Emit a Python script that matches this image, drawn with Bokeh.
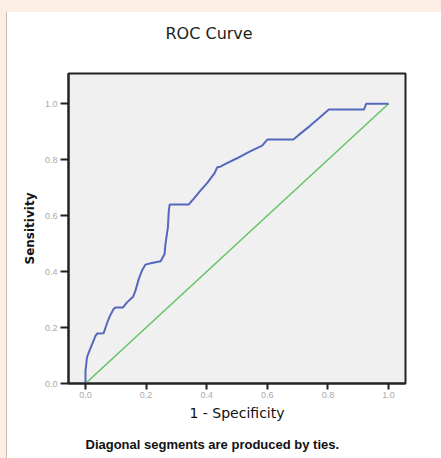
from bokeh.plotting import figure
from bokeh.models import Range1d, FixedTicker, Title, Spacer, LinearAxis
from bokeh.layouts import column, row
from bokeh.embed import file_html
from bokeh.resources import INLINE

# ROC curve
fpr = [0.000, 0.000, 0.005, 0.011, 0.022, 0.033, 0.039, 0.060, 0.072, 0.080, 0.093, 0.099,
       0.124, 0.137, 0.157, 0.165, 0.176, 0.187, 0.198, 0.215, 0.248, 0.261, 0.264, 0.272,
       0.275, 0.278, 0.341, 0.352, 0.380, 0.402, 0.425, 0.435, 0.445, 0.462, 0.500, 0.540,
       0.583, 0.600, 0.686, 0.700, 0.740, 0.770, 0.803, 0.919, 0.926, 1.000]
tpr = [0.000, 0.045, 0.093, 0.111, 0.141, 0.170, 0.179, 0.180, 0.218, 0.240, 0.266, 0.272,
       0.272, 0.290, 0.310, 0.332, 0.374, 0.405, 0.425, 0.430, 0.437, 0.463, 0.499, 0.558,
       0.618, 0.640, 0.640, 0.654, 0.690, 0.717, 0.750, 0.773, 0.775, 0.785, 0.805, 0.828,
       0.850, 0.872, 0.872, 0.885, 0.920, 0.948, 0.979, 0.979, 1.000, 1.000]
diag_x = [0.0, 1.0]
diag_y = [0.0, 1.0]
tick_values = [0.0, 0.2, 0.4, 0.6, 0.8, 1.0]
tick_labels = ["0.0", "0.2", "0.4", "0.6", "0.8", "1.0"]
title_text = "ROC Curve"
footer_text = "Diagonal segments are produced by ties."

PEACH = "#FCEEE4"

p = figure(width=434, height=446, output_backend="svg", toolbar_location=None,
           x_range=Range1d(-0.056, 1.056), y_range=Range1d(0, 1.108),
           min_border_left=61, min_border_right=36, min_border_top=61, min_border_bottom=75)

p.background_fill_color = "#F0F0F0"
p.border_fill_color = "white"
p.outline_line_color = "#222222"
p.outline_line_width = 2
p.grid.visible = False

p.line(diag_x, diag_y, line_color="#62C462", line_width=1.5)
p.line(fpr, tpr, line_color="#5469BD", line_width=2)

for ax in (p.xaxis[0], p.yaxis[0]):
    ax.ticker = FixedTicker(ticks=tick_values)
    ax.major_label_overrides = {v: l for v, l in zip(tick_values, tick_labels)}
    ax.minor_tick_line_color = None
    ax.major_tick_in = 0
    ax.axis_line_color = "#222222"
    ax.axis_line_width = 2
    ax.major_tick_line_color = "#222222"
    ax.major_tick_line_width = 2
    ax.major_label_text_color = "#AAAAAA"
    ax.major_label_text_font = "Liberation Sans"
    ax.major_label_text_font_size = "9px"
    ax.axis_label_text_color = "#111111"

p.xaxis.major_tick_out = 6
p.xaxis.major_label_standoff = 2
p.xaxis.axis_label = "1 - Specificity"
p.xaxis.axis_label_text_font = "DejaVu Sans"
p.xaxis.axis_label_text_font_size = "14px"
p.xaxis.axis_label_text_font_style = "normal"
p.xaxis.axis_label_standoff = 4

p.yaxis.major_tick_out = 8
p.yaxis.major_label_standoff = 3
p.yaxis.axis_label = "Sensitivity"
p.yaxis.axis_label_text_font = "DejaVu Sans"
p.yaxis.axis_label_text_font_size = "12px"
p.yaxis.axis_label_text_font_style = "bold"
p.yaxis.axis_label_standoff = 5


def gap_axis(size):
    # an axis with one invisible tick, used only as spacing between panels
    a = LinearAxis(ticker=FixedTicker(ticks=[0.5]), major_label_overrides={0.5: ""},
                   major_tick_out=size, major_tick_in=0,
                   minor_tick_out=0, minor_tick_in=0, major_label_standoff=0,
                   axis_line_color=None, major_tick_line_alpha=0,
                   minor_tick_line_color=None)
    return a


p.add_layout(gap_axis(29), "above")
p.add_layout(Title(text=title_text, align="left", offset=97, standoff=4,
                   vertical_align="bottom", text_font="DejaVu Sans", text_font_size="16px",
                   text_font_style="normal", text_color="#222222"), "above")

p.add_layout(gap_axis(11), "below")
p.add_layout(Title(text=footer_text, align="left", offset=17, standoff=4,
                   vertical_align="top", text_font="Liberation Sans", text_font_size="13px",
                   text_font_style="bold", text_color="#111111"), "below")

top = Spacer(width=441, height=12, styles={"background-color": PEACH})
left = Spacer(width=6, height=446, styles={"background-color": PEACH})
line = Spacer(width=1, height=446, styles={"background-color": "#CDB9AD"})
layout = column(top, row(left, line, p, spacing=0), spacing=0)

open("out.html", "w").write(file_html(layout, INLINE))
